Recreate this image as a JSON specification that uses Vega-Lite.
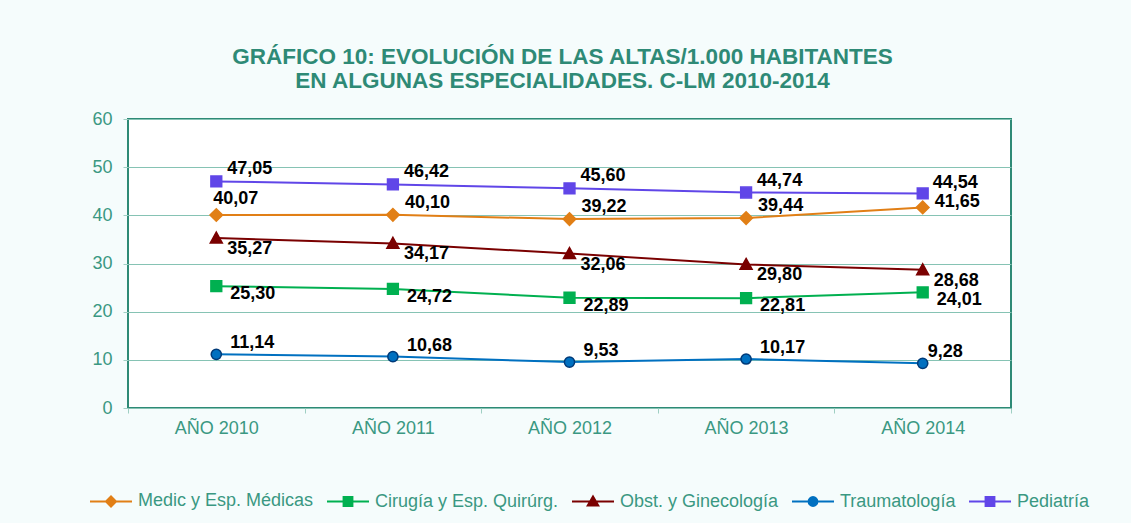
{
  "$schema": "https://vega.github.io/schema/vega-lite/v6.json",
  "width": 883,
  "height": 289,
  "autosize": {"type": "none"},
  "padding": {"left": 128, "top": 119, "right": 120, "bottom": 115},
  "background": "#f5fcfc",
  "title": {
    "text": ["GRÁFICO 10: EVOLUCIÓN DE LAS ALTAS/1.000 HABITANTES", "EN ALGUNAS ESPECIALIDADES. C-LM 2010-2014"],
    "font": "Liberation Sans",
    "fontSize": 22.5,
    "fontWeight": "bold",
    "color": "#2e8a76",
    "anchor": "middle",
    "frame": "group",
    "baseline": "alphabetic",
    "lineHeight": 24,
    "dx": -7,
    "offset": 0
  },
  "data": {
    "values": [
      {"anio": "AÑO 2010", "serie": "Medic y Esp. Médicas", "v": 40.07},
      {"anio": "AÑO 2010", "serie": "Cirugía y Esp. Quirúrg.", "v": 25.30},
      {"anio": "AÑO 2010", "serie": "Obst. y Ginecología", "v": 35.27},
      {"anio": "AÑO 2010", "serie": "Traumatología", "v": 11.14},
      {"anio": "AÑO 2010", "serie": "Pediatría", "v": 47.05},
      {"anio": "AÑO 2011", "serie": "Medic y Esp. Médicas", "v": 40.10},
      {"anio": "AÑO 2011", "serie": "Cirugía y Esp. Quirúrg.", "v": 24.72},
      {"anio": "AÑO 2011", "serie": "Obst. y Ginecología", "v": 34.17},
      {"anio": "AÑO 2011", "serie": "Traumatología", "v": 10.68},
      {"anio": "AÑO 2011", "serie": "Pediatría", "v": 46.42},
      {"anio": "AÑO 2012", "serie": "Medic y Esp. Médicas", "v": 39.22},
      {"anio": "AÑO 2012", "serie": "Cirugía y Esp. Quirúrg.", "v": 22.89},
      {"anio": "AÑO 2012", "serie": "Obst. y Ginecología", "v": 32.06},
      {"anio": "AÑO 2012", "serie": "Traumatología", "v": 9.53},
      {"anio": "AÑO 2012", "serie": "Pediatría", "v": 45.60},
      {"anio": "AÑO 2013", "serie": "Medic y Esp. Médicas", "v": 39.44},
      {"anio": "AÑO 2013", "serie": "Cirugía y Esp. Quirúrg.", "v": 22.81},
      {"anio": "AÑO 2013", "serie": "Obst. y Ginecología", "v": 29.80},
      {"anio": "AÑO 2013", "serie": "Traumatología", "v": 10.17},
      {"anio": "AÑO 2013", "serie": "Pediatría", "v": 44.74},
      {"anio": "AÑO 2014", "serie": "Medic y Esp. Médicas", "v": 41.65},
      {"anio": "AÑO 2014", "serie": "Cirugía y Esp. Quirúrg.", "v": 24.01},
      {"anio": "AÑO 2014", "serie": "Obst. y Ginecología", "v": 28.68},
      {"anio": "AÑO 2014", "serie": "Traumatología", "v": 9.28},
      {"anio": "AÑO 2014", "serie": "Pediatría", "v": 44.54}
    ]
  },
  "encoding": {
    "x": {
      "field": "anio", "type": "ordinal",
      "scale": {"type": "band", "paddingInner": 0, "paddingOuter": 0},
      "axis": {
        "title": null, "labelAngle": 0, "tickBand": "extent", "tickSize": 5,
        "tickColor": "#9fcfc3", "domain": false, "grid": false,
        "labelFont": "Liberation Sans", "labelFontSize": 18, "labelColor": "#3a9882", "labelPadding": 6
      }
    },
    "y": {
      "field": "v", "type": "quantitative",
      "scale": {"domain": [0, 60], "nice": false},
      "axis": {
        "title": null, "values": [0, 10, 20, 30, 40, 50, 60], "domain": false, "grid": true,
        "gridColor": "#86c3b4", "gridWidth": 1, "tickSize": 5, "tickColor": "#9fcfc3",
        "labelFont": "Liberation Sans", "labelFontSize": 18, "labelColor": "#3a9882", "labelPadding": 11
      }
    }
  },
  "layer": [
    {
      "mark": {"type": "line", "strokeWidth": 2},
      "encoding": {
        "color": {
          "field": "serie", "type": "nominal", "legend": null,
          "scale": {
            "domain": ["Medic y Esp. Médicas", "Cirugía y Esp. Quirúrg.", "Obst. y Ginecología", "Traumatología", "Pediatría"],
            "range": ["#e17f16", "#00b050", "#7a0000", "#0070c0", "#6046e8"]
          }
        }
      }
    },
    {
      "mark": {"type": "point", "filled": true, "opacity": 1, "size": 144, "strokeWidth": 1.5},
      "encoding": {
        "fill": {
          "field": "serie", "type": "nominal", "legend": null,
          "scale": {
            "domain": ["Medic y Esp. Médicas", "Cirugía y Esp. Quirúrg.", "Obst. y Ginecología", "Traumatología", "Pediatría"],
            "range": ["#e17f16", "#00b050", "#7a0000", "#0070c0", "#6046e8"]
          }
        },
        "stroke": {
          "field": "serie", "type": "nominal", "legend": null,
          "scale": {
            "domain": ["Medic y Esp. Médicas", "Cirugía y Esp. Quirúrg.", "Obst. y Ginecología", "Traumatología", "Pediatría"],
            "range": ["#e17f16", "#00b050", "#7a0000", "#003a78", "#6046e8"]
          }
        },
        "shape": {
          "field": "serie", "type": "nominal", "legend": null,
          "scale": {
            "domain": ["Medic y Esp. Médicas", "Cirugía y Esp. Quirúrg.", "Obst. y Ginecología", "Traumatología", "Pediatría"],
            "range": [
              "M-1.05,0L0,-1.05L1.05,0L0,1.05Z",
              "M-0.9,-0.9H0.9V0.9H-0.9Z",
              "M0,-1L1,0.8L-1,0.8Z",
              "M-0.85,0A0.85,0.85,0,1,0,0.85,0A0.85,0.85,0,1,0,-0.85,0Z",
              "M-0.9,-0.9H0.9V0.9H-0.9Z"
            ]
          }
        }
      }
    },
    {
      "transform": [{"filter": "datum.v < 0"}],
      "mark": {"type": "point", "filled": true, "opacity": 1},
      "encoding": {
        "fill": {
          "field": "serie", "type": "nominal",
          "scale": {
            "domain": ["Medic y Esp. Médicas", "Cirugía y Esp. Quirúrg.", "Obst. y Ginecología", "Traumatología", "Pediatría"],
            "range": ["#e17f16", "#00b050", "#7a0000", "#0070c0", "#6046e8"]
          },
          "legend": {
            "title": null, "orient": "none", "legendX": -39, "legendY": 360, "direction": "horizontal",
            "symbolSize": 1764, "symbolStrokeWidth": 2, "labelOffset": 5, "columnPadding": 9,
            "labelFont": "Liberation Sans", "labelFontSize": 18, "labelColor": "#3a9882", "labelLimit": 400
          }
        },
        "stroke": {
          "field": "serie", "type": "nominal",
          "scale": {
            "domain": ["Medic y Esp. Médicas", "Cirugía y Esp. Quirúrg.", "Obst. y Ginecología", "Traumatología", "Pediatría"],
            "range": ["#e17f16", "#00b050", "#7a0000", "#0070c0", "#6046e8"]
          },
          "legend": {
            "title": null, "orient": "none", "legendX": -39, "legendY": 360, "direction": "horizontal",
            "symbolSize": 1764, "symbolStrokeWidth": 2, "labelOffset": 5, "columnPadding": 9,
            "labelFont": "Liberation Sans", "labelFontSize": 18, "labelColor": "#3a9882", "labelLimit": 400
          }
        },
        "shape": {
          "field": "serie", "type": "nominal",
          "scale": {
            "domain": ["Medic y Esp. Médicas", "Cirugía y Esp. Quirúrg.", "Obst. y Ginecología", "Traumatología", "Pediatría"],
            "range": [
              "M-1,0H1M-0.24,0L0,-0.24L0.24,0L0,0.24Z",
              "M-1,0H1M-0.21,-0.21H0.21V0.21H-0.21Z",
              "M-1,0H1M0,-0.24L0.25,0.19L-0.25,0.19Z",
              "M-1,0H1M-0.21,0A0.21,0.21,0,1,0,0.21,0A0.21,0.21,0,1,0,-0.21,0Z",
              "M-1,0H1M-0.21,-0.21H0.21V0.21H-0.21Z"
            ]
          },
          "legend": {
            "title": null, "orient": "none", "legendX": -39, "legendY": 360, "direction": "horizontal",
            "symbolSize": 1764, "symbolStrokeWidth": 2, "labelOffset": 5, "columnPadding": 9,
            "labelFont": "Liberation Sans", "labelFontSize": 18, "labelColor": "#3a9882", "labelLimit": 400
          }
        }
      }
    },
    {
      "transform": [{"filter": "datum.serie == 'Pediatría' && datum.anio != 'AÑO 2014'"}],
      "mark": {"type": "text", "align": "left", "baseline": "middle", "dx": 11, "dy": -12, "font": "Liberation Sans", "fontSize": 18, "fontWeight": "bold", "color": "black"},
      "encoding": {"text": {"field": "v", "type": "quantitative", "format": ".2f"}}
    },
    {
      "transform": [{"filter": "datum.serie == 'Pediatría' && datum.anio == 'AÑO 2014'"}],
      "mark": {"type": "text", "align": "left", "baseline": "middle", "dx": 10, "dy": -10, "font": "Liberation Sans", "fontSize": 18, "fontWeight": "bold", "color": "black"},
      "encoding": {"text": {"field": "v", "type": "quantitative", "format": ".2f"}}
    },
    {
      "transform": [{"filter": "datum.serie == 'Medic y Esp. Médicas' && datum.anio != 'AÑO 2010' && datum.anio != 'AÑO 2014'"}],
      "mark": {"type": "text", "align": "left", "baseline": "middle", "dx": 12, "dy": -12, "font": "Liberation Sans", "fontSize": 18, "fontWeight": "bold", "color": "black"},
      "encoding": {"text": {"field": "v", "type": "quantitative", "format": ".2f"}}
    },
    {
      "transform": [{"filter": "datum.serie == 'Medic y Esp. Médicas' && datum.anio == 'AÑO 2014'"}],
      "mark": {"type": "text", "align": "left", "baseline": "middle", "dx": 12, "dy": -5, "font": "Liberation Sans", "fontSize": 18, "fontWeight": "bold", "color": "black"},
      "encoding": {"text": {"field": "v", "type": "quantitative", "format": ".2f"}}
    },
    {
      "transform": [{"filter": "datum.serie == 'Medic y Esp. Médicas' && datum.anio == 'AÑO 2010'"}],
      "mark": {"type": "text", "align": "left", "baseline": "middle", "dx": -3, "dy": -16, "font": "Liberation Sans", "fontSize": 18, "fontWeight": "bold", "color": "black"},
      "encoding": {"text": {"field": "v", "type": "quantitative", "format": ".2f"}}
    },
    {
      "transform": [{"filter": "datum.serie == 'Obst. y Ginecología'"}],
      "mark": {"type": "text", "align": "left", "baseline": "middle", "dx": 11, "dy": 11, "font": "Liberation Sans", "fontSize": 18, "fontWeight": "bold", "color": "black"},
      "encoding": {"text": {"field": "v", "type": "quantitative", "format": ".2f"}}
    },
    {
      "transform": [{"filter": "datum.serie == 'Cirugía y Esp. Quirúrg.'"}],
      "mark": {"type": "text", "align": "left", "baseline": "middle", "dx": 14, "dy": 8, "font": "Liberation Sans", "fontSize": 18, "fontWeight": "bold", "color": "black"},
      "encoding": {"text": {"field": "v", "type": "quantitative", "format": ".2f"}}
    },
    {
      "transform": [{"filter": "datum.serie == 'Traumatología' && datum.anio != 'AÑO 2014'"}],
      "mark": {"type": "text", "align": "left", "baseline": "middle", "dx": 14, "dy": -11, "font": "Liberation Sans", "fontSize": 18, "fontWeight": "bold", "color": "black"},
      "encoding": {"text": {"field": "v", "type": "quantitative", "format": ".2f"}}
    },
    {
      "transform": [{"filter": "datum.serie == 'Traumatología' && datum.anio == 'AÑO 2014'"}],
      "mark": {"type": "text", "align": "left", "baseline": "middle", "dx": 5, "dy": -11, "font": "Liberation Sans", "fontSize": 18, "fontWeight": "bold", "color": "black"},
      "encoding": {"text": {"field": "v", "type": "quantitative", "format": ".2f"}}
    }
  ],
  "resolve": {"scale": {"fill": "independent", "stroke": "independent", "shape": "independent"}},
  "config": {
    "locale": {"number": {"decimal": ",", "thousands": ".", "grouping": [3], "currency": ["", " €"]}},
    "view": {"fill": "white", "stroke": "#2e8a76", "strokeWidth": 2},
    "font": "Liberation Sans"
  }
}
